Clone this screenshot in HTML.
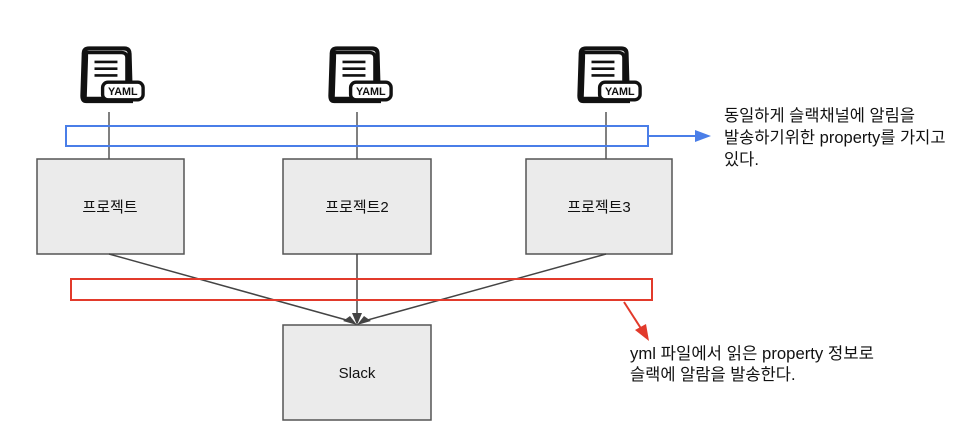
<!DOCTYPE html>
<html><head><meta charset="utf-8"><style>
body{margin:0;background:#fff;}
svg{display:block;}
text{font-family:"Liberation Sans","Noto Sans CJK KR",sans-serif;}
</style></head><body>
<svg width="966" height="428" viewBox="0 0 966 428" xmlns="http://www.w3.org/2000/svg">
<defs>
<g id="yaml">
<path d="M-14,-53 L12,-53 Q16,-53 16,-49 L17,-14 L-16,-14 Q-19,-14 -19,-18 L-18,-49 Q-18,-53 -14,-53Z" fill="#fff" stroke="#111" stroke-width="3"/>
<path d="M-16,-50 L10,-50 Q14,-50 14,-46 L14,-16 L-17,-16 L-16,-46 Z" fill="#fff" stroke="#111" stroke-width="2.5"/>
<line x1="-10" y1="-43" x2="7" y2="-43" stroke="#111" stroke-width="2"/>
<line x1="-10" y1="-38" x2="7" y2="-38" stroke="#111" stroke-width="2"/>
<line x1="-10" y1="-33" x2="7" y2="-33" stroke="#111" stroke-width="2"/>
<rect x="-4" y="-28" width="30" height="13" rx="4" fill="#fff" stroke="#111" stroke-width="2.5"/>
<text x="11" y="-18.5" font-size="8" font-weight="bold" text-anchor="middle" fill="#111">YAML</text>
</g>
</defs>
<g transform="translate(108,120) scale(1.35)"><use href="#yaml"/></g>
<g transform="translate(356,120) scale(1.35)"><use href="#yaml"/></g>
<g transform="translate(605,120) scale(1.35)"><use href="#yaml"/></g>
<g stroke="#555" stroke-width="1.5">
<line x1="109" y1="112" x2="109" y2="159"/>
<line x1="357" y1="112" x2="357" y2="159"/>
<line x1="606" y1="112" x2="606" y2="159"/>
</g>
<g fill="#ebebeb" stroke="#555" stroke-width="1.5">
<rect x="37" y="159" width="147" height="95"/>
<rect x="283" y="159" width="148" height="95"/>
<rect x="526" y="159" width="146" height="95"/>
<rect x="283" y="325" width="148" height="95"/>
</g>
<g font-size="15" fill="#111" text-anchor="middle">
<text x="110" y="212">프로젝트</text>
<text x="357" y="212">프로젝트2</text>
<text x="599" y="212">프로젝트3</text>
<text x="357" y="378">Slack</text>
</g>
<g stroke="#444" stroke-width="1.5" fill="none">
<line x1="109" y1="254" x2="350" y2="321"/>
<line x1="357" y1="254" x2="357" y2="318"/>
<line x1="606" y1="254" x2="364" y2="321"/>
</g>
<g fill="#444">
<polygon points="357,325 343,321 350,316"/>
<polygon points="357,325 352,313 362,313"/>
<polygon points="357,325 364,316 371,321"/>
</g>
<rect x="66" y="126" width="582" height="20" fill="none" stroke="#4a7ee8" stroke-width="2"/>
<line x1="648" y1="136" x2="696" y2="136" stroke="#4a7ee8" stroke-width="2"/>
<polygon points="711,136 695,130 695,142" fill="#4a7ee8"/>
<rect x="71" y="279" width="581" height="21" fill="none" stroke="#e23a2b" stroke-width="2"/>
<line x1="624" y1="302" x2="642" y2="330" stroke="#e23a2b" stroke-width="2"/>
<polygon points="649,341 635,330 646,324" fill="#e23a2b"/>
<g font-size="16.5" fill="#111">
<text x="724" y="121" textLength="191" lengthAdjust="spacingAndGlyphs">동일하게 슬랙채널에 알림을</text>
<text x="724" y="143">발송하기위한 property를 가지고</text>
<text x="724" y="165">있다.</text>
<text x="630" y="359" textLength="244" lengthAdjust="spacingAndGlyphs">yml 파일에서 읽은 property 정보로</text>
<text x="630" y="380">슬랙에 알람을 발송한다.</text>
</g>
</svg>
</body></html>
